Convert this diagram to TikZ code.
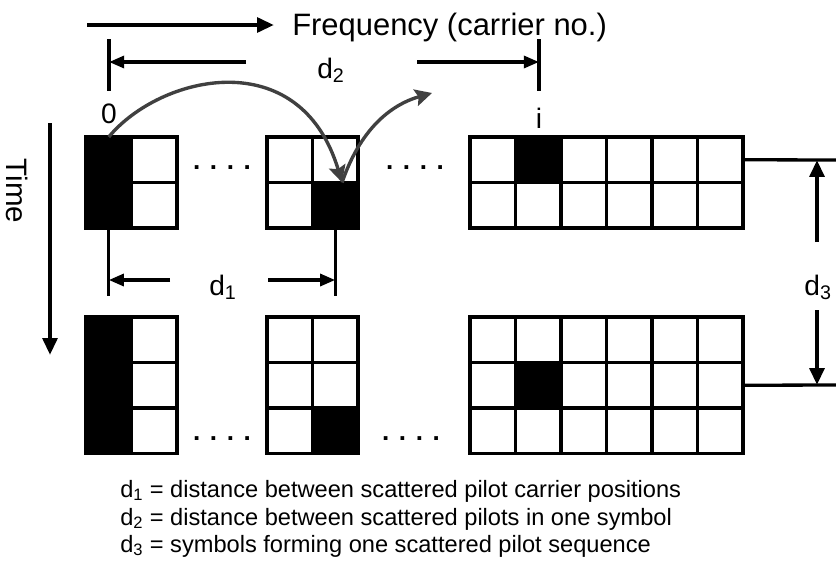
\documentclass[tikz,border=0pt]{standalone}
\usepackage{fontspec}
\setmainfont{Liberation Sans}
\usepackage{xcolor}
\definecolor{cHop}{HTML}{404040}
\usetikzlibrary{arrows.meta,calc}
\tikzset{
  cell/.style={draw,line width=2.35pt,minimum size=1.1375cm,inner sep=0pt,outer sep=0pt},
  tick/.style={line width=2.35pt},
  dim-arrow/.style={-{Triangle[length=0.38cm,width=0.3cm]},line width=2.35pt},
  dim3-arrow/.style={-{Triangle[length=0.42cm,width=0.36cm]},line width=3pt},
  axis-arrow/.style={-{Triangle[length=0.42cm,width=0.36cm]},line width=2.9pt},
  % grey hops: pilot moves one carrier per symbol
  hop-arrow/.style={-{Stealth[length=0.42cm,width=0.42cm,inset=0.07cm]},line width=2.4pt,draw=cHop},
  lbl/.style={font=\fontsize{20pt}{24pt}\selectfont,inner sep=0pt,anchor=base},
  dots/.style={font=\fontsize{18.5pt}{22pt}\selectfont\bfseries,inner sep=0pt,anchor=base},
  legend/.style={font=\fontsize{16.8pt}{20pt}\selectfont,inner sep=0pt,anchor=base west},
}
\begin{document}
\begin{tikzpicture}[x=0.025cm,y=-0.025cm]
  \useasboundingbox (0,0) rectangle (836,561);
  % axes
  \node[font=\fontsize{22pt}{26pt}\selectfont,inner sep=0pt,anchor=base west] (freq) at (292,35) {Frequency (carrier no.)};
  \coordinate (fstart) at (87,25);
  \draw[axis-arrow] (fstart) -- ([xshift=-0.45cm]fstart -| freq.west);
  \node[font=\fontsize{21pt}{25pt}\selectfont,inner sep=0pt,rotate=-90] (time) at (17,191) {Time};
  \coordinate (tstart) at (50,123);
  \coordinate (tend) at (50,355);
  \draw[axis-arrow] (tstart) -- (tend);
  % symbol blocks
  \foreach \nm/\X/\Y/\R/\C in {tA/86/137/2/2,tB/267/137/2/2,tC/470/137/2/6,bA/86/317/3/2,bB/267/317/3/2,bC/470/317/3/6}
    \foreach \r in {1,...,\R}
      \foreach \c in {1,...,\C}
        \node[cell] (\nm-\r-\c) at ({\X+(\c-0.5)*45.5},{\Y+(\r-0.5)*45.5}) {};
  \foreach \p in {tA-1-1,tA-2-1,tB-2-2,tC-1-2,bA-1-1,bA-2-1,bA-3-1,bB-3-2,bC-2-2}
    \fill (\p.north west) rectangle (\p.south east);
  \node[dots] (tdots1) at (222,169) {. . . .};
  \node[dots] (tdots2) at (415,169) {. . . .};
  \node[dots] (bdots1) at (222,440) {. . . .};
  \node[dots] (bdots2) at (411,440) {. . . .};
  \node[lbl] (zero) at (109,123) {0};
  \node[lbl] (ii) at (539,128) {i};
  % d2
  \coordinate (d2L) at (109,39);
  \coordinate (d2R) at (539,39);
  \draw[tick] (d2L) -- ++(0,52);
  \draw[tick] (d2R) -- ++(0,52);
  \coordinate (d2a) at (246,62);
  \coordinate (d2b) at (417,62);
  \draw[dim-arrow] (d2a) -- (d2a -| d2L);
  \draw[dim-arrow] (d2b) -- (d2b -| d2R);
  \node[lbl] (d2) at (331,78) {d\textsubscript{2}};
  % d1
  \draw[tick] (tA-2-1.south) -- ++(0,68);
  \draw[tick] (tB-2-2.south) -- ++(0,68);
  \coordinate (d1a) at (170,280);
  \coordinate (d1b) at (268,280);
  \draw[dim-arrow] (d1a) -- (d1a -| tA-2-1.south);
  \draw[dim-arrow] (d1b) -- (d1b -| tB-2-2.south);
  \node[lbl] (d1) at (223,295) {d\textsubscript{1}};
  % d3
  \coordinate (edgeT) at (836,160);
  \coordinate (edgeB) at (836,385);
  \draw[tick] (tC-1-6.east) -- (edgeT);
  \draw[tick] (bC-2-6.east) -- (edgeB);
  \coordinate (d3a) at (817,242);
  \coordinate (d3b) at (817,310);
  \draw[dim3-arrow] (d3a) -- (d3a |- edgeT);
  \draw[dim3-arrow] (d3b) -- (d3b |- edgeB);
  \node[lbl] (d3) at (818,295) {d\textsubscript{3}};
  % hops
  \coordinate (hop) at (432,93);
  \draw[hop-arrow] (tA-1-1.north) .. controls (160,75) and (300,42) .. ([xshift=0.17cm]tB-2-2.north);
  \draw[hop-arrow] ([xshift=0.17cm]tB-2-2.north) .. controls (360,130) and (390,105) .. (hop);
  % legend
  \node[legend] (leg1) at (120,497) {d\textsubscript{1} = distance between scattered pilot carrier positions};
  \node[legend] (leg2) at (120,525) {d\textsubscript{2} = distance between scattered pilots in one symbol};
  \node[legend] (leg3) at (120,552) {d\textsubscript{3} = symbols forming one scattered pilot sequence};
\end{tikzpicture}
\end{document}
